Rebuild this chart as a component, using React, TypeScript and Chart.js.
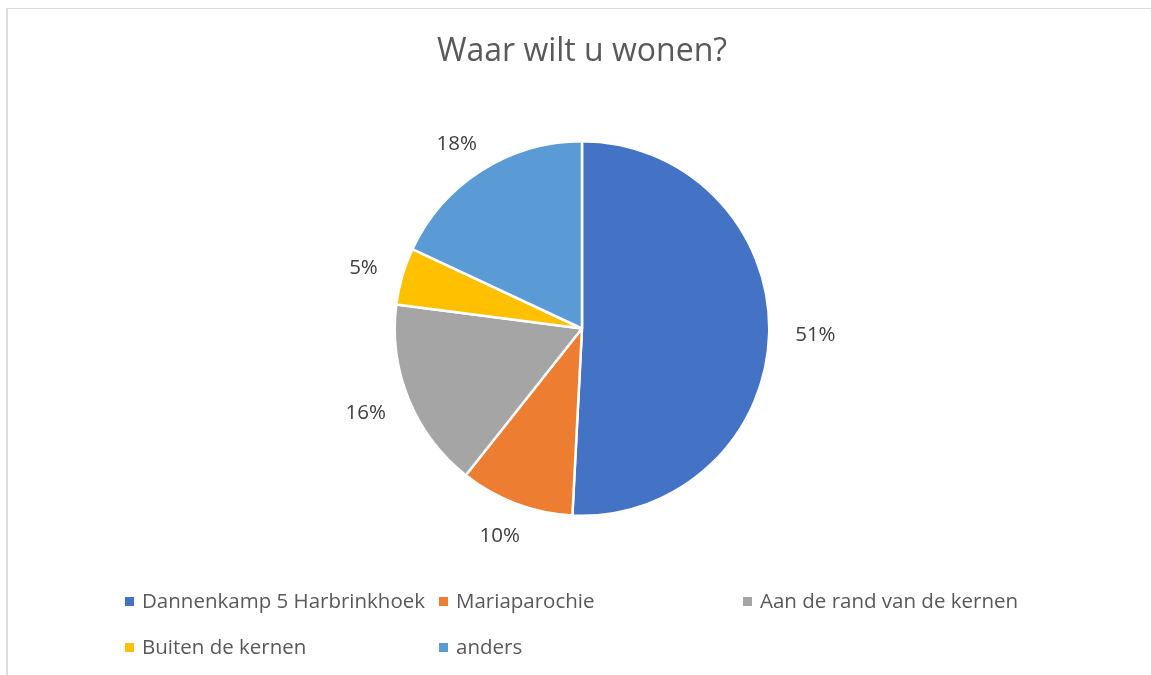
import React, { useEffect, useRef } from "react";
import { Chart, registerables } from "chart.js";

Chart.register(...registerables);

const TITLE = "Waar wilt u wonen?";
const categories = [
  "Dannenkamp 5 Harbrinkhoek",
  "Mariaparochie",
  "Aan de rand van de kernen",
  "Buiten de kernen",
  "anders",
];
const counts = [31, 6, 10, 3, 11];
const colors = ["#4472C4", "#ED7D31", "#A5A5A5", "#FFC000", "#5B9BD5"];

const FONT = "'Open Sans'";
const LABEL_SIZE = 20.5;
const TITLE_SIZE = 32;

const W = 1151;
const H = 675;

const pctLabelsPlugin = {
  id: "pctLabels",
  afterDatasetsDraw(chart: any) {
    const ctx = chart.ctx as CanvasRenderingContext2D;
    const meta = chart.getDatasetMeta(0);
    const data = chart.data.datasets[0].data as number[];
    const total = data.reduce((a, b) => a + b, 0);
    ctx.save();
    ctx.font = `${LABEL_SIZE}px ${FONT}`;
    ctx.fillStyle = "#404040";
    ctx.textAlign = "center";
    ctx.textBaseline = "alphabetic";
    const cap = LABEL_SIZE * 0.714;
    meta.data.forEach((arc: any, i: number) => {
      const p = arc.getProps(["x", "y", "startAngle", "endAngle", "outerRadius"], true);
      const mid = (p.startAngle + p.endAngle) / 2;
      const text = Math.round((data[i] / total) * 100) + "%";
      const tw = ctx.measureText(text).width;
      const c = Math.cos(mid);
      const s = Math.sin(mid);
      const ax = p.x + c * (p.outerRadius + 22);
      const ay = p.y + s * (p.outerRadius + 22);
      const cx = ax + c * (tw / 2 + 4);
      const cy = ay + s * (cap / 2 + 4);
      ctx.fillText(text, cx, cy + cap / 2);
    });
    ctx.restore();
  },
};

const LEGEND_COLS = [125, 439, 743];
const LEGEND_ROWS = [608, 654];

const gridLegendPlugin = {
  id: "gridLegend",
  afterDraw(chart: any) {
    const ctx = chart.ctx as CanvasRenderingContext2D;
    const labels = chart.data.labels as string[];
    const bg = chart.data.datasets[0].backgroundColor as string[];
    ctx.save();
    ctx.font = `${LABEL_SIZE}px ${FONT}`;
    ctx.textAlign = "left";
    ctx.textBaseline = "alphabetic";
    labels.forEach((lab, i) => {
      const col = i % LEGEND_COLS.length;
      const row = Math.floor(i / LEGEND_COLS.length);
      const x = LEGEND_COLS[col];
      const base = LEGEND_ROWS[row];
      ctx.fillStyle = bg[i];
      ctx.fillRect(x, base - 11, 9, 9);
      ctx.fillStyle = "#595959";
      ctx.fillText(lab, x + 17, base);
    });
    ctx.restore();
  },
};

export default function App() {
  const ref = useRef<HTMLCanvasElement>(null);

  useEffect(() => {
    let chart: Chart | null = null;
    let cancelled = false;
    const make = () => {
      if (cancelled || !ref.current) return;
      chart = new Chart(ref.current, {
        type: "pie",
        data: {
          labels: categories,
          datasets: [
            {
              data: counts,
              backgroundColor: colors,
              borderColor: "#ffffff",
              borderWidth: 2.5,
            },
          ],
        },
        options: {
          responsive: false,
          animation: false,
          layout: { padding: { top: 0, bottom: 158, left: 199, right: 186 } },
          plugins: {
            legend: { display: false },
            tooltip: { enabled: false },
            title: {
              display: true,
              text: TITLE,
              color: "#595959",
              font: { family: "Open Sans", size: TITLE_SIZE, weight: "normal" as any },
              padding: { top: 32.8, bottom: 68.8 },
            },
          },
        },
        plugins: [pctLabelsPlugin, gridLegendPlugin],
      });
    };
    const fontsReady = (document as any).fonts
      ? Promise.all([
          (document as any).fonts.load(`${TITLE_SIZE}px ${FONT}`),
          (document as any).fonts.load(`${LABEL_SIZE}px ${FONT}`),
        ]).catch(() => null)
      : Promise.resolve(null);
    fontsReady.then(make);
    return () => {
      cancelled = true;
      if (chart) chart.destroy();
    };
  }, []);

  return (
    <div
      style={{
        position: "fixed",
        left: 0,
        top: 0,
        width: W,
        height: H,
        overflow: "hidden",
        background: "#ffffff",
      }}
    >
      <div
        style={{
          position: "absolute",
          left: 6,
          top: 8,
          width: W + 20,
          height: H + 20,
          borderLeft: "2px solid #dadada",
          borderTop: "1.5px solid #d9d9d9",
        }}
      />
      <canvas
        ref={ref}
        width={W}
        height={H}
        style={{ position: "absolute", left: 0, top: 0, width: W, height: H }}
      />
    </div>
  );
}
